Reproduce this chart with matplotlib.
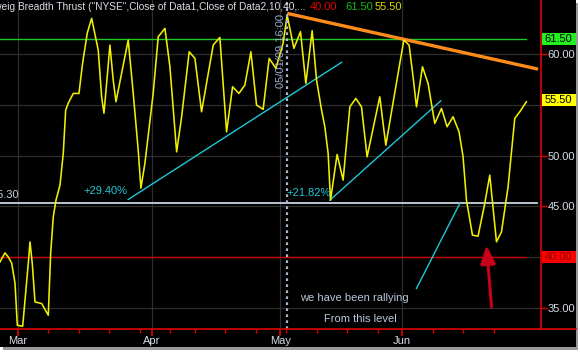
import matplotlib.pyplot as plt
import matplotlib.transforms as mtransforms
from matplotlib.patches import Rectangle
from matplotlib.lines import Line2D

plt.rcParams["font.family"] = ["Liberation Sans Narrow", "DejaVu Sans Condensed", "Liberation Sans"]

# trading-day index (0 = Mar 2 2009) and indicator value
day_idx = [-2.95, -2.13, -1.59, -1.03, -0.49, -0.11, 0.77, 1.69, 1.97, 2.34,
           2.79, 3.89, 4.97, 5.36, 5.79, 6.23, 6.89, 7.43, 7.82, 8.25,
           9.07, 10.0, 10.6, 11.36, 12.08, 13.16, 13.72, 14.1, 14.54, 15.08,
           15.62, 16.07, 17.0, 18.08, 18.9, 19.72, 20.16, 20.82, 22.18, 23.0,
           24.1, 24.92, 26.02, 26.84, 28.08, 29.02, 30.11, 30.93, 32.02, 33.11,
           34.21, 35.2, 36.23, 37.21, 38.2, 39.13, 40.21, 41.2, 42.3, 43.49,
           44.15, 45.25, 46.34, 47.21, 48.25, 48.97, 49.79, 50.33, 50.87, 51.26,
           52.34, 53.33, 54.43, 55.41, 56.34, 57.26, 59.34, 60.33, 63.28, 64.15,
           64.8, 65.36, 66.34, 67.26, 68.36, 69.46, 70.38, 71.36, 72.34, 73.0,
           73.56, 74.54, 75.46, 76.56, 77.38, 78.48, 79.3, 80.38, 81.48, 82.3,
           83.39]
breadth = [39.53, 40.42, 40.02, 39.4, 37.43, 33.28, 33.18, 39.4, 41.5, 39.4,
           35.58, 35.42, 34.27, 40.39, 43.97, 45.62, 47.1, 50.26, 54.5, 55.2,
           56.15, 56.15, 59.15, 62.1, 63.56, 60.43, 55.82, 54.2, 57.17, 60.92,
           57.47, 55.33, 58.16, 61.42, 56.18, 50.56, 46.8, 49.27, 56.18, 61.74,
           62.57, 58.78, 50.39, 53.85, 60.26, 59.61, 54.34, 57.17, 60.92, 61.68,
           52.36, 56.81, 56.15, 56.97, 60.26, 55.0, 54.58, 59.61, 58.62, 61.12,
           63.88, 60.6, 62.24, 57.14, 62.34, 57.47, 54.51, 52.86, 50.23, 45.62,
           50.13, 47.6, 54.83, 55.66, 54.83, 49.9, 55.82, 51.05, 61.42, 60.92,
           57.79, 54.83, 58.78, 57.14, 53.19, 54.67, 52.86, 53.85, 52.36, 49.9,
           45.62, 42.17, 42.07, 45.3, 48.09, 41.51, 42.49, 46.93, 53.69, 54.34,
           55.33]

month_pos = [0, 22, 43, 63]
month_labels = ["Mar", "Apr", "May", "Jun"]
week_pos = [5, 10, 15, 20, 25, 29, 34, 39, 44, 49, 54, 59, 68, 73, 78]
price_ticks = [35, 40, 45, 50, 55, 60]
price_labels = ["35.00", "", "45.00", "50.00", "", "60.00"]

upper_level = 61.5
lower_level = 40.0
mid_level = 45.3
last_value = 55.5

# trend lines drawn on the chart: (x0, y0, x1, y1)
cyan_lines = [(18.08, 45.69, 53.07, 59.22),
              (51.15, 45.62, 69.34, 55.42),
              (65.36, 36.91, 72.46, 45.3)]
orange_line = (44.15, 64.05, 85.3, 58.55)
marker_day = 44.2

FS = 7.6
W, H = 580, 352
fig = plt.figure(figsize=(W / 100, H / 100), dpi=100, facecolor="white")

# black chart window with a small shadow
fig.add_artist(Rectangle((3 / W, 1 - 350 / H), 575 / W, 347 / H, transform=fig.transFigure,
                         facecolor="#9a9a9a", edgecolor="none", zorder=-3))
fig.add_artist(Rectangle((0, 1 - 346.5 / H), 575.5 / W, 346.5 / H, transform=fig.transFigure,
                         facecolor="black", edgecolor="none", zorder=-2))

ax = fig.add_axes([0, 1 - 328.5 / H, 540.5 / W, 328.5 / H])
ax.set_facecolor("black")
ax.set_xlim(-2.95, 85.7)
ax.set_ylim(32.96, 65.37)

for s in ["top", "left"]:
    ax.spines[s].set_visible(False)
ax.spines["right"].set_color("#e00000")
ax.spines["bottom"].set_color("#e00000")
ax.spines["right"].set_linewidth(1.2)
ax.spines["bottom"].set_linewidth(1.2)

ax.set_xticks(month_pos)
ax.set_xticklabels(month_labels)
ax.set_xticks(week_pos, minor=True)
ax.tick_params(axis="x", which="major", colors="#e00000", length=5, width=1.2,
               labelcolor="#d8dde6", labelsize=FS + 0.4, pad=0.5)
ax.tick_params(axis="x", which="minor", colors="#e00000", length=3, width=1)

ax.yaxis.tick_right()
ax.set_yticks(price_ticks)
ax.set_yticklabels(price_labels)
ax.tick_params(axis="y", colors="#e00000", length=4, width=1,
               labelcolor="#d8dde6", labelsize=FS + 0.4, pad=1)

ax.grid(True, which="major", color="#2e2e2e", linewidth=0.9)
ax.set_axisbelow(True)

# horizontal reference lines
ax.plot([-2.95, 83.4], [upper_level] * 2, color="#22c822", lw=1)
ax.plot([-2.95, 83.4], [lower_level] * 2, color="#d00000", lw=1)
ax.plot([-2.95, 85.2], [mid_level] * 2, color="#c8d4e2", lw=1.3)
ax.text(0.3, mid_level + 0.8, f"{mid_level:.2f}", color="#c8d0dc", fontsize=FS + 0.4,
        ha="right", va="center")

# trend lines
for x0, y0, x1, y1 in cyan_lines:
    ax.plot([x0, x1], [y0, y1], color="#1ec8d6", lw=1)
ax.plot(orange_line[0::2], orange_line[1::2], color="#ff8c1a", lw=2.4, solid_capstyle="butt")

ax.plot(day_idx, breadth, color="#f0f000", lw=1.15)

ax.text(10.8, 46.5, "+29.40%", color="#1ec8d6", fontsize=FS + 0.4, va="center")
ax.text(44.0, 46.3, "+21.82%", color="#1ec8d6", fontsize=FS + 0.4, va="center")

ax.axvline(marker_day, color="#a8b8d0", lw=1.6, linestyle=(0, (1.2, 1.5)))
ax.text(43.2, 60.33, "05/01/09 16:00", color="#98aacb", fontsize=FS + 0.4, rotation=90,
        ha="center", va="center")

ax.text(46.2, 35.98, "we have been rallying", color="#b8c6dc", fontsize=FS + 0.4, va="center")
ax.text(50.2, 33.87, "From this level", color="#b8c6dc", fontsize=FS + 0.4, va="center")

ax.annotate("", xy=(76.84, 41.18), xytext=(77.66, 35.09),
            arrowprops=dict(arrowstyle="-|>,head_width=0.45,head_length=1.1",
                            mutation_scale=10, color="#c8001a", lw=2.2,
                            shrinkA=0, shrinkB=0))

# bottom red rule continues under the price panel
fig.add_artist(Line2D([540 / W, 575.5 / W], [1 - 328.5 / H] * 2, transform=fig.transFigure,
                      color="#e00000", lw=1.2))

# value boxes on the price scale
bt = mtransforms.blended_transform_factory(fig.transFigure, ax.transData)
for val, face, txt in [(upper_level, "#22ee22", "black"),
                       (last_value, "#ffff00", "black"),
                       (lower_level, "#ff0000", "#8a0000")]:
    fig.add_artist(Rectangle((541.5 / W, val - 0.6), 34 / W, 1.2, transform=bt,
                             facecolor=face, edgecolor="none", zorder=5))
    fig.add_artist(plt.Text(558.5 / W, val, f"{val:.2f}", transform=bt, color=txt,
                            fontsize=FS + 0.4, ha="center", va="center", zorder=6,
                            family=["Liberation Sans Narrow", "DejaVu Sans Condensed", "Liberation Sans"]))

# study title and last values
fig.text(305 / W, 1 - 7.5 / H, 'Zweig Breadth Thrust ("NYSE",Close of Data1,Close of Data2,10,40,...',
         color="#d8dde6", fontsize=7.3, ha="right", va="center")
fig.text(310 / W, 1 - 7.5 / H, "40.00", color="#e00000", fontsize=FS + 0.4, va="center")
fig.text(345 / W, 1 - 7.5 / H, "61.50", color="#10c010", fontsize=FS + 0.4, va="center")
fig.text(375 / W, 1 - 7.5 / H, "55.50", color="#d8d800", fontsize=FS + 0.4, va="center")

fig.savefig("out.png", dpi=100, facecolor="white")
